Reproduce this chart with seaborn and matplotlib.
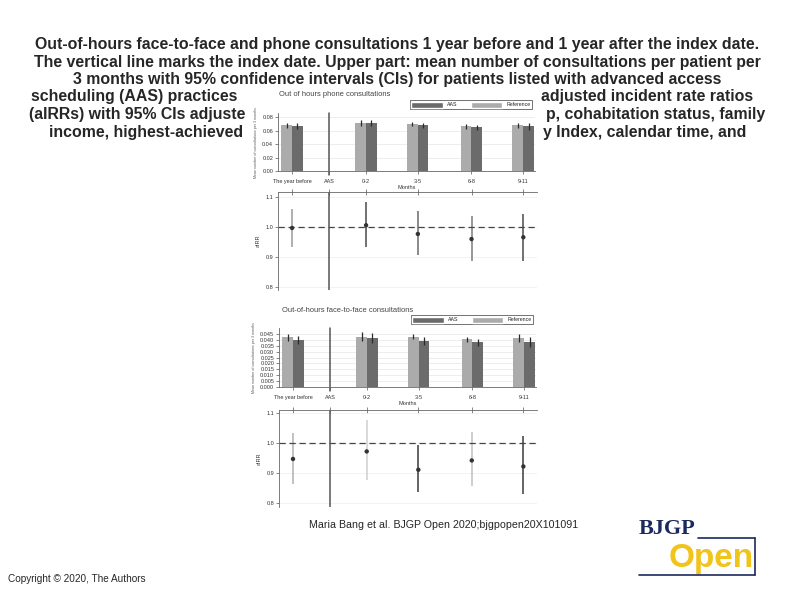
# Slide: out-of-hours consultations before/after AAS, bars + aIRR panels
import numpy as np
import pandas as pd
import matplotlib
matplotlib.use("Agg")
import matplotlib.pyplot as plt
from matplotlib.patches import Patch
from matplotlib.lines import Line2D
import seaborn as sns

# data
periods = ["The year before", "AAS", "0-2", "3-5", "6-8", "9-11"]
period_pos = [0, 1, 2, 3.4, 4.85, 6.25]

phone_ref = [0.0677, 0.0712, 0.0700, 0.0663, 0.0677]
phone_aas = [0.0667, 0.0712, 0.0677, 0.0648, 0.0663]
phone_ref_ci = [0.004, 0.005, 0.003, 0.004, 0.004]
phone_aas_ci = [0.004, 0.005, 0.004, 0.004, 0.005]

face_ref = [0.0421, 0.0426, 0.0426, 0.0404, 0.0415]
face_aas = [0.0398, 0.0415, 0.0390, 0.0380, 0.0380]
face_ref_ci = [0.003, 0.004, 0.002, 0.002, 0.003]
face_aas_ci = [0.003, 0.004, 0.003, 0.003, 0.004]

phone_irr = [0.997, 1.006, 0.977, 0.960, 0.966]
phone_lo = [0.932, 0.934, 0.906, 0.888, 0.888]
phone_hi = [1.060, 1.083, 1.052, 1.036, 1.043]
phone_ci_col = ["#9a9a9a", "#4a4a4a", "#6a6a6a", "#7a7a7a", "#4a4a4a"]

face_irr = [0.947, 0.972, 0.911, 0.942, 0.922]
face_lo = [0.864, 0.878, 0.836, 0.856, 0.830]
face_hi = [1.033, 1.076, 0.994, 1.036, 1.024]
face_ci_col = ["#b0b0b0", "#d0d0d0", "#3a3a3a", "#c0c0c0", "#3a3a3a"]

# slide caption: first three lines are whole, the rest is partly hidden by the figure
title_rows = [
    "Out-of-hours face-to-face and phone consultations 1 year before and 1 year after the index date.",
    "The vertical line marks the index date. Upper part: mean number of consultations per patient per",
    "3 months with 95% confidence intervals (CIs) for patients listed with advanced access",
]
title_left = ["scheduling (AAS) practices", "(aIRRs) with 95% CIs adjuste", "income, highest-achieved"]
title_right = ["adjusted incident rate ratios", "p, cohabitation status, family", "y Index, calendar time, and"]

W, H = 794, 595
pal = {"Reference": "#ababab", "AAS": "#6b6b6b"}
bar_pos = [p for p, n in zip(period_pos, periods) if n != "AAS"]
aas_pos = period_pos[periods.index("AAS")]

sns.set_style("white")
plt.rcParams["font.family"] = ["Liberation Sans", "DejaVu Sans"]

fig = plt.figure(figsize=(W / 100, H / 100), dpi=100)


def rect(x0, y0, x1, y1):
    return [x0 / W, 1 - y1 / H, (x1 - x0) / W, (y1 - y0) / H]


tkw = dict(va="center", fontsize=11.4, fontweight="bold")
for i, row in enumerate(title_rows):
    fig.text(397 / W, 1 - (44.5 + 17.5 * i) / H, row, ha="center", **tkw)
for i, (lt, rt) in enumerate(zip(title_left, title_right)):
    y = 1 - (97 + 17.5 * i) / H
    fig.text([237, 245, 243][i] / W, y, lt, ha="right", **tkw)
    fig.text([541, 546, 543][i] / W, y, rt, ha="left", **tkw)


def bar_panel(box, ref, aas, ref_ci, aas_ci, yticks, fmt, ytop, title, title_xy):
    ax = fig.add_axes(rect(*box))
    df = pd.DataFrame({
        "pos": bar_pos * 2,
        "group": ["Reference"] * len(ref) + ["AAS"] * len(aas),
        "value": ref + aas,
    })
    sns.barplot(data=df, x="pos", y="value", hue="group", hue_order=["Reference", "AAS"],
                palette=pal, native_scale=True, width=0.414, saturation=1,
                errorbar=None, legend=False, linewidth=0, ax=ax)
    for cont, cis in zip(ax.containers, [ref_ci, aas_ci]):
        for bar, ci in zip(cont, cis):
            xc = bar.get_x() + bar.get_width() / 2
            top = bar.get_height()
            ax.vlines(xc, top - ci, top + ci, color="#2a2a2a", lw=0.9, zorder=5)
    ax.axvline(aas_pos, ymin=-0.07, ymax=1.0, color="#555555", lw=1.1, clip_on=False)
    ax.set_xlim(-0.38, 6.57)
    ax.set_ylim(0, ytop)
    ax.set_yticks(yticks)
    ax.set_yticklabels([fmt.format(t) for t in yticks])
    ax.set_xticks(period_pos)
    ax.set_xticklabels(periods)
    ax.tick_params(axis="both", labelsize=4, length=2, width=0.5, color="#555555",
                   colors="#333333", bottom=True, left=True)
    ax.tick_params(axis="x", pad=4)
    ax.tick_params(axis="y", pad=1.5)
    ax.set_xlabel("Months", fontsize=4, labelpad=0.5, color="#333333")
    ax.set_ylabel("Mean number of consultations per 3 months", fontsize=2.6,
                  labelpad=3, color="#555555")
    ax.grid(axis="y", color="#e6e6e6", lw=0.5)
    ax.set_axisbelow(True)
    sns.despine(ax=ax)
    for s in ["left", "bottom"]:
        ax.spines[s].set_color("#666666")
        ax.spines[s].set_linewidth(0.6)
    handles = [Patch(facecolor=pal["AAS"]), Patch(facecolor=pal["Reference"])]
    leg = ax.legend(handles, ["AAS", "Reference"], loc="lower right",
                    bbox_to_anchor=(1.0, 1.02), ncol=2, fontsize=3.8,
                    handlelength=6, handleheight=1.4, columnspacing=2.5,
                    borderpad=0.3, frameon=True, fancybox=False)
    leg.get_frame().set_edgecolor("#333333")
    leg.get_frame().set_linewidth(0.6)
    fig.text(title_xy[0] / W, 1 - title_xy[1] / H, title, fontsize=5.4,
             color="#444444", va="center")
    return ax


def irr_panel(box, est, lo, hi, cols, ylim, xmax):
    ax = fig.add_axes(rect(*box))
    ax.vlines(bar_pos, lo, hi, colors=cols, lw=1.1)
    sns.scatterplot(x=bar_pos, y=est, color="#333333", s=10, edgecolor="none",
                    zorder=5, ax=ax)
    ax.axhline(1.0, color="#444444", lw=0.9, ls=(0, (5, 3)))
    ax.axvline(aas_pos, color="#555555", lw=1.1)
    ax.set_xlim(-0.38, xmax)
    ax.set_ylim(*ylim)
    ax.set_yticks([0.8, 0.9, 1.0, 1.1])
    ax.set_yticklabels(["0.8", "0.9", "1.0", "1.1"])
    ax.set_xticks(period_pos)
    ax.xaxis.tick_top()
    ax.tick_params(axis="x", direction="inout", length=4, width=0.5,
                   color="#555555", labeltop=False, labelbottom=False)
    ax.tick_params(axis="y", labelsize=4, length=2, width=0.5, pad=1.5,
                   color="#555555", colors="#333333", left=True)
    ax.set_ylabel("aIRR", fontsize=4, labelpad=3, color="#333333")
    ax.grid(axis="y", color="#eeeeee", lw=0.5)
    for s in ["right", "bottom"]:
        ax.spines[s].set_visible(False)
    for s in ["left", "top"]:
        ax.spines[s].set_color("#666666")
        ax.spines[s].set_linewidth(0.6)
    return ax


bar_panel((278, 113, 535, 171), phone_ref, phone_aas, phone_ref_ci, phone_aas_ci,
          [0.0, 0.02, 0.04, 0.06, 0.08], "{:.2f}", 0.086,
          "Out of hours phone consultations", (279, 95))
irr_panel((278, 192, 537, 290), phone_irr, phone_lo, phone_hi, phone_ci_col,
          (0.79, 1.117), 6.62)
bar_panel((279, 328, 536, 387), face_ref, face_aas, face_ref_ci, face_aas_ci,
          list(np.arange(0, 0.0451, 0.005)), "{:.3f}", 0.050,
          "Out-of-hours face-to-face consultations", (282, 310))
irr_panel((279, 410, 537, 507), face_irr, face_lo, face_hi, face_ci_col,
          (0.787, 1.11), 6.62)

# footer
fig.text(444 / W, 1 - 525 / H, "Maria Bang et al. BJGP Open 2020;bjgpopen20X101091",
         ha="center", va="center", fontsize=7.7)
fig.text(8 / W, 1 - 579 / H, "Copyright \u00a9 2020, The Authors",
         ha="left", va="center", fontsize=7.2)

# BJGP Open logo
navy = "#1b2a5c"
fig.text(639 / W, 1 - 529 / H, "BJGP", fontsize=16, fontweight="bold",
         family="Liberation Serif", color=navy, va="center", ha="left")
fig.text(669 / W, 1 - 558 / H, "Open", fontsize=24, fontweight="bold",
         color="#f2c31b", va="center", ha="left")
for xs, ys in [([698, 755], [538, 538]), ([755, 755], [538, 575]), ([639, 755], [575, 575])]:
    fig.add_artist(Line2D([x / W for x in xs], [1 - y / H for y in ys],
                          transform=fig.transFigure, color=navy, lw=1.2))

fig.savefig("out.png", dpi=100)
